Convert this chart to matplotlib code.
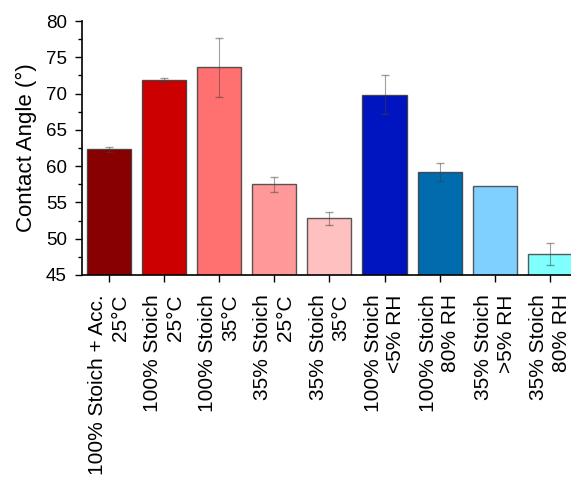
import numpy as np
import matplotlib.pyplot as plt

plt.rcParams['font.family'] = ['Liberation Sans', 'DejaVu Sans']

# dane
labels = ['100% Stoich + Acc.\n25°C', '100% Stoich\n25°C', '100% Stoich\n35°C',
          '35% Stoich\n25°C', '35% Stoich\n35°C', '100% Stoich\n<5% RH',
          '100% Stoich\n80% RH', '35% Stoich\n>5% RH', '35% Stoich\n80% RH']
angles = [62.3, 71.9, 73.6, 57.5, 52.8, 69.85, 59.25, 57.3, 47.9]
errors = [0.4, 0.3, 4.0, 1.0, 0.9, 2.7, 1.25, 0.0, 1.5]
colors = ['#880000', '#CC0000', '#FF7070', '#FF9999', '#FFC0C0',
          '#0014C0', '#006CAD', '#80D0FF', '#80FFFF']

fig = plt.figure(figsize=(5.71, 4.79), dpi=100)
ax = fig.add_axes([0.1436, 0.426, 0.856, 0.53])

x = np.arange(1, len(angles) + 1)
ax.bar(x, angles, width=0.8, color=colors, edgecolor=(0.2, 0.2, 0.2, 0.8),
       linewidth=1.0)

# slupek bez odchylenia pomijamy
err = np.array(errors)
has_err = err > 0
ax.errorbar(x[has_err], np.array(angles)[has_err], yerr=err[has_err], fmt='none',
            ecolor=(0.25, 0.25, 0.25, 0.5), elinewidth=0.8, capsize=3, capthick=1.0)

ax.set_ylim(45, 80)
ax.set_xlim(0.51, 9.38)
ax.set_yticks(np.arange(45, 81, 5))
ax.set_yticks(np.arange(45, 80.1, 2.5), minor=True)
ax.set_xticks(x)
ax.set_xticklabels(labels, rotation=90, ha='center', va='top',
                   multialignment='right', fontsize=15, linespacing=1.25)
ax.tick_params(axis='y', labelsize=13.5, direction='out', length=5, width=1, pad=6)
ax.tick_params(axis='y', which='minor', length=3, width=1)
ax.tick_params(axis='x', direction='out', length=5, width=1, pad=9)
ax.set_ylabel('Contact Angle (°)', fontsize=16, labelpad=6)

for s in ['top', 'right']:
    ax.spines[s].set_visible(False)
for s in ['left', 'bottom']:
    ax.spines[s].set_linewidth(1.2)

fig.savefig('out.png', dpi=100)
